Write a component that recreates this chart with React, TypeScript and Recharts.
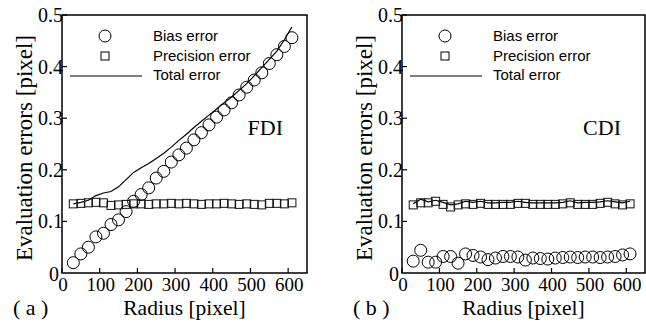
import React from "react";
import { ScatterChart, Scatter, XAxis, YAxis, ReferenceArea, Customized } from "recharts";

const radius = [30, 50, 70, 90, 110, 130, 150, 170, 190, 210, 230, 250, 270, 290, 310, 330, 350, 370, 390, 410, 430, 450, 470, 490, 510, 530, 550, 570, 590, 610];

const fdiBias = [0.02, 0.037, 0.05, 0.07, 0.077, 0.094, 0.103, 0.119, 0.139, 0.152, 0.165, 0.184, 0.197, 0.215, 0.229, 0.242, 0.258, 0.272, 0.287, 0.302, 0.316, 0.33, 0.345, 0.36, 0.374, 0.388, 0.406, 0.423, 0.439, 0.456];
const fdiPrecision = [0.134, 0.135, 0.136, 0.137, 0.136, 0.131, 0.132, 0.133, 0.134, 0.134, 0.133, 0.134, 0.134, 0.135, 0.134, 0.135, 0.134, 0.133, 0.134, 0.134, 0.135, 0.134, 0.133, 0.134, 0.133, 0.132, 0.135, 0.135, 0.134, 0.136];
const fdiTotal = [0.134, 0.137, 0.141, 0.15, 0.155, 0.158, 0.167, 0.181, 0.195, 0.204, 0.212, 0.222, 0.232, 0.244, 0.257, 0.269, 0.282, 0.294, 0.306, 0.318, 0.33, 0.341, 0.354, 0.367, 0.382, 0.398, 0.414, 0.43, 0.452, 0.477];

const cdiBias = [0.023, 0.044, 0.021, 0.021, 0.032, 0.032, 0.019, 0.037, 0.034, 0.031, 0.026, 0.029, 0.032, 0.032, 0.031, 0.025, 0.029, 0.028, 0.027, 0.029, 0.03, 0.031, 0.03, 0.031, 0.031, 0.03, 0.031, 0.032, 0.035, 0.037];
const cdiPrecision = [0.132, 0.136, 0.136, 0.139, 0.133, 0.128, 0.132, 0.134, 0.133, 0.135, 0.133, 0.133, 0.133, 0.133, 0.135, 0.135, 0.133, 0.133, 0.133, 0.133, 0.134, 0.136, 0.133, 0.133, 0.133, 0.135, 0.137, 0.134, 0.132, 0.134];
const cdiTotal = [0.134, 0.143, 0.138, 0.141, 0.137, 0.132, 0.134, 0.139, 0.137, 0.139, 0.136, 0.136, 0.137, 0.137, 0.139, 0.137, 0.136, 0.136, 0.136, 0.136, 0.137, 0.14, 0.136, 0.137, 0.137, 0.138, 0.14, 0.138, 0.136, 0.139];

const xTicks = [0, 100, 200, 300, 400, 500, 600];
const yTicks = [0, 0.1, 0.2, 0.3, 0.4, 0.5];
const legendLabels = ["Bias error", "Precision error", "Total error"];

const serif = { fontFamily: '"Liberation Serif", "Times New Roman", serif' };
const sans = { fontFamily: '"Liberation Sans", Arial, sans-serif' };

const W = 323;
const H = 322;
const TOP = 15;
const BOTTOM = 273;

const toPoints = (ys: number[]) => radius.map((r, i) => ({ r, v: ys[i] }));

const XTick = (p: any) => (
  <g>
    <line x1={p.x} x2={p.x} y1={p.y} y2={p.y - 5} stroke="#000" strokeWidth={1.2} />
    <text x={p.x + 1} y={p.y + 18} textAnchor="middle" style={serif} fontSize={19} fill="#000">
      {p.payload.value}
    </text>
  </g>
);

const YTick = (p: any) => {
  const zero = p.payload.value === 0;
  return (
    <g>
      {!zero && <line x1={p.x} x2={p.x + 5} y1={p.y} y2={p.y} stroke="#000" strokeWidth={1.2} />}
      <text
        x={zero ? p.x - 3 : p.x + 1}
        y={zero ? p.y + 1 : p.y}
        dy="0.35em"
        textAnchor="end"
        style={serif}
        fontSize={20}
        fill="#000"
      >
        {p.payload.value}
      </text>
    </g>
  );
};

const circleShape = (p: any) => <circle cx={p.cx} cy={p.cy} r={6} fill="none" stroke="#000" strokeWidth={1} />;
const squareShape = (p: any) => <rect x={p.cx - 4} y={p.cy - 4} width={8} height={8} fill="none" stroke="#111" strokeWidth={1} />;
const noShape = () => <g />;

type PanelProps = {
  left: number;
  plotLeft: number;
  plotRight: number;
  tag: string;
  method: string;
  bias: number[];
  precision: number[];
  total: number[];
};

function Panel({ left, plotLeft, plotRight, tag, method, bias, precision, total }: PanelProps) {
  const decor = () => (
    <g>
      {/* legend */}
      <circle cx={plotLeft + 43} cy={36} r={6} fill="none" stroke="#000" />
      <rect x={plotLeft + 39} y={52} width={8} height={8} fill="none" stroke="#000" />
      <line x1={plotLeft + 8} x2={plotLeft + 80} y1={76} y2={76} stroke="#000" strokeWidth={1.2} />
      {legendLabels.map((t, i) => (
        <text key={t} x={plotLeft + 91} y={41 + i * 19.5} style={sans} fontSize={15} fill="#000">
          {t}
        </text>
      ))}
      <text x={plotRight - 24} y={135} textAnchor="end" style={serif} fontSize={22} fill="#000">
        {method}
      </text>
      <text
        transform={`translate(${plotLeft - 38},148) rotate(-90)`}
        dy="0.35em"
        textAnchor="middle"
        style={serif}
        fontSize={23}
        fill="#000"
      >
        Evaluation errors [pixel]
      </text>
      <text x={(plotLeft + plotRight) / 2} y={315} textAnchor="middle" style={serif} fontSize={21.5} fill="#000">
        Radius [pixel]
      </text>
      <text x={plotLeft - 49} y={315} style={serif} fontSize={22} fill="#000">
        {tag}
      </text>
    </g>
  );

  return (
    <div style={{ position: "absolute", left, top: 0 }}>
      <ScatterChart width={W} height={H} margin={{ top: TOP, right: W - plotRight, bottom: 0, left: 0 }}>
        <XAxis
          type="number"
          dataKey="r"
          domain={[0, 650]}
          ticks={xTicks}
          height={H - BOTTOM}
          axisLine={false}
          tickLine={false}
          tickSize={0}
          tickMargin={0}
          tick={<XTick />}
          allowDataOverflow
        />
        <YAxis
          type="number"
          dataKey="v"
          domain={[0, 0.5]}
          ticks={yTicks}
          width={plotLeft}
          axisLine={false}
          tickLine={false}
          tickSize={0}
          tickMargin={0}
          tick={<YTick />}
          allowDataOverflow
        />
        <ReferenceArea x1={0} x2={650} y1={0} y2={0.5} fill="none" stroke="#000" strokeWidth={1.5} />
        <Scatter data={toPoints(total)} line={{ stroke: "#000", strokeWidth: 1.2 }} shape={noShape} isAnimationActive={false} />
        <Scatter data={toPoints(precision)} shape={squareShape} isAnimationActive={false} />
        <Scatter data={toPoints(bias)} shape={circleShape} isAnimationActive={false} />
        <Customized component={decor} />
      </ScatterChart>
    </div>
  );
}

export default function App() {
  return (
    <div style={{ position: "absolute", left: 0, top: 0, width: 646, height: 322, background: "#fff" }}>
      <Panel left={0} plotLeft={62} plotRight={307} tag="( a )" method="FDI" bias={fdiBias} precision={fdiPrecision} total={fdiTotal} />
      <Panel left={323} plotLeft={79} plotRight={322} tag="( b )" method="CDI" bias={cdiBias} precision={cdiPrecision} total={cdiTotal} />
    </div>
  );
}
